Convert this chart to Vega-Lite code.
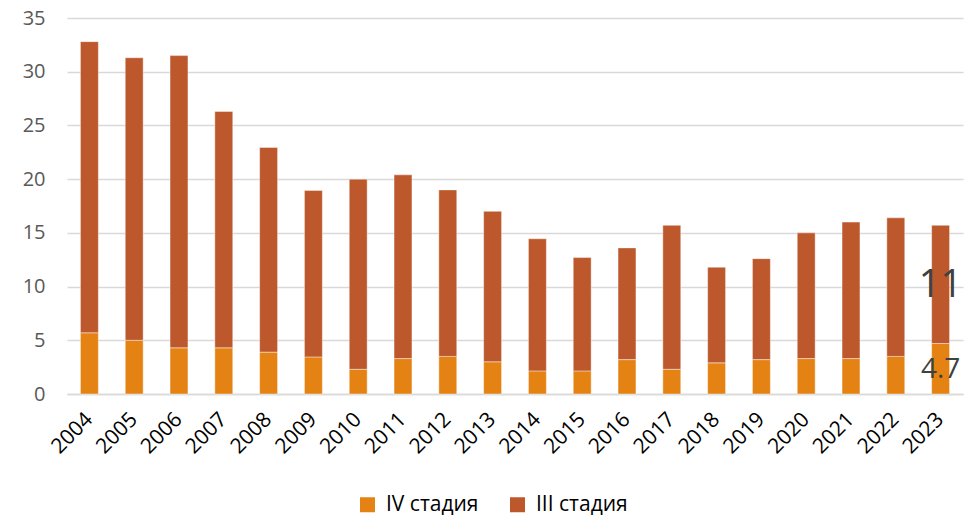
{
  "$schema": "https://vega.github.io/schema/vega-lite/v6.json",
  "width": 896,
  "height": 376,
  "autosize": "none",
  "padding": {"left": 67, "top": 18, "right": 8, "bottom": 125},
  "background": "white",
  "config": {
    "view": {"stroke": null},
    "font": "Open Sans"
  },
  "data": {
    "values": [
      {"year": "2004", "series": "IV стадия", "value": 5.7},
      {"year": "2004", "series": "III стадия", "value": 27.1},
      {"year": "2005", "series": "IV стадия", "value": 5.0},
      {"year": "2005", "series": "III стадия", "value": 26.3},
      {"year": "2006", "series": "IV стадия", "value": 4.3},
      {"year": "2006", "series": "III стадия", "value": 27.2},
      {"year": "2007", "series": "IV стадия", "value": 4.3},
      {"year": "2007", "series": "III стадия", "value": 22.0},
      {"year": "2008", "series": "IV стадия", "value": 3.9},
      {"year": "2008", "series": "III стадия", "value": 19.05},
      {"year": "2009", "series": "IV стадия", "value": 3.45},
      {"year": "2009", "series": "III стадия", "value": 15.5},
      {"year": "2010", "series": "IV стадия", "value": 2.3},
      {"year": "2010", "series": "III стадия", "value": 17.7},
      {"year": "2011", "series": "IV стадия", "value": 3.3},
      {"year": "2011", "series": "III стадия", "value": 17.1},
      {"year": "2012", "series": "IV стадия", "value": 3.5},
      {"year": "2012", "series": "III стадия", "value": 15.5},
      {"year": "2013", "series": "IV стадия", "value": 3.0},
      {"year": "2013", "series": "III стадия", "value": 14.0},
      {"year": "2014", "series": "IV стадия", "value": 2.15},
      {"year": "2014", "series": "III стадия", "value": 12.3},
      {"year": "2015", "series": "IV стадия", "value": 2.15},
      {"year": "2015", "series": "III стадия", "value": 10.55},
      {"year": "2016", "series": "IV стадия", "value": 3.2},
      {"year": "2016", "series": "III стадия", "value": 10.4},
      {"year": "2017", "series": "IV стадия", "value": 2.3},
      {"year": "2017", "series": "III стадия", "value": 13.4},
      {"year": "2018", "series": "IV стадия", "value": 2.9},
      {"year": "2018", "series": "III стадия", "value": 8.9},
      {"year": "2019", "series": "IV стадия", "value": 3.2},
      {"year": "2019", "series": "III стадия", "value": 9.4},
      {"year": "2020", "series": "IV стадия", "value": 3.3},
      {"year": "2020", "series": "III стадия", "value": 11.7},
      {"year": "2021", "series": "IV стадия", "value": 3.3},
      {"year": "2021", "series": "III стадия", "value": 12.7},
      {"year": "2022", "series": "IV стадия", "value": 3.5},
      {"year": "2022", "series": "III стадия", "value": 12.9},
      {"year": "2023", "series": "IV стадия", "value": 4.7},
      {"year": "2023", "series": "III стадия", "value": 11}
    ]
  },
  "layer": [
    {
      "mark": {"type": "bar", "stroke": "white", "strokeOpacity": 0.6, "strokeWidth": 0.7},
      "encoding": {
        "x": {
          "field": "year", "type": "nominal", "title": null,
          "scale": {"paddingInner": 0.6, "paddingOuter": 0.3},
          "axis": {
            "labelAngle": -45, "labelAlign": "right", "labelBaseline": "middle",
            "labelFontSize": 21, "labelColor": "#000000",
            "ticks": false, "domainColor": "#d9d9d9", "domainWidth": 1.5,
            "labelPadding": 22
          }
        },
        "y": {
          "field": "value", "type": "quantitative", "stack": "zero", "title": null,
          "scale": {"domain": [0, 35], "nice": false},
          "axis": {
            "values": [0, 5, 10, 15, 20, 25, 30, 35],
            "labelFontSize": 20, "labelColor": "#595959",
            "ticks": false, "domain": false,
            "gridColor": "#d9d9d9", "gridWidth": 1.5, "labelPadding": 22
          }
        },
        "color": {
          "field": "series", "type": "nominal",
          "scale": {"domain": ["IV стадия", "III стадия"], "range": ["#E48314", "#BD582C"]},
          "legend": {
            "title": null, "orient": "none", "direction": "horizontal",
            "legendX": 290, "legendY": 476,
            "symbolType": "square", "symbolSize": 225, "symbolStrokeWidth": 0,
            "labelFontSize": 21, "labelColor": "#000000", "columnPadding": 28,
            "labelOffset": 8
          }
        },
        "order": {"field": "series", "sort": "descending"}
      }
    },
    {
      "transform": [
        {"filter": "datum.year == '2023'"},
        {"stack": "value", "groupby": ["year"], "sort": [{"field": "series", "order": "descending"}], "as": ["v0", "v1"]},
        {"filter": "datum.series == 'IV стадия'"}
      ],
      "mark": {"type": "text", "fontSize": 28, "color": "#404040", "baseline": "middle", "dy": 26},
      "encoding": {
        "x": {"field": "year", "type": "nominal"},
        "y": {"field": "v1", "type": "quantitative"},
        "text": {"field": "value", "type": "quantitative"}
      }
    },
    {
      "transform": [
        {"filter": "datum.year == '2023'"},
        {"stack": "value", "groupby": ["year"], "sort": [{"field": "series", "order": "descending"}], "as": ["v0", "v1"]},
        {"filter": "datum.series == 'III стадия'"}
      ],
      "mark": {"type": "text", "fontSize": 38, "color": "#404040", "baseline": "middle", "dy": 61},
      "encoding": {
        "x": {"field": "year", "type": "nominal"},
        "y": {"field": "v1", "type": "quantitative"},
        "text": {"field": "value", "type": "quantitative"}
      }
    }
  ]
}
